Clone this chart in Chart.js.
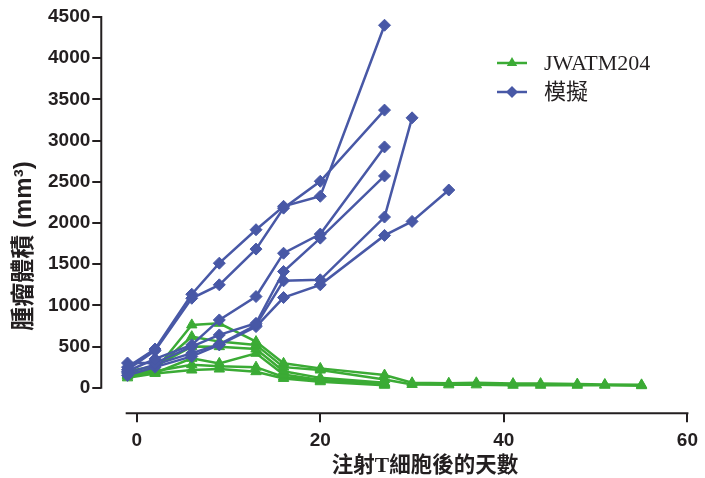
<!DOCTYPE html>
<html>
<head>
<meta charset="utf-8">
<script src="https://cdn.jsdelivr.net/npm/chart.js@4"></script>
<style>
  html, body { margin: 0; padding: 0; background: #fff; }
  #wrap { width: 705px; height: 478px; }
</style>
</head>
<body>
<div id="wrap"><canvas id="tumorChart"></canvas></div>
<script>
// Days after T cell injection
const days = [-1, 2, 6, 9, 13, 16, 20, 27, 30, 34, 37, 41, 44, 48, 51, 55];

// Mock (模擬) mice, tumor volume mm3
const mock1 = [250, 470, 1135, 1512, 1918, 2202, 2324, 4400];
const mock2 = [220, 450, 1086, 1249, 1683, 2180, 2506, 3370];
const mock3 = [200, 350, 520, 823, 1107, 1633, 1865, 2923];
const mock4 = [300, 300, 500, 641, 782, 1411, 1816, 2571];
const mock5 = [180, 280, 420, 527, 760, 1298, 1310, 2072, 3276];
const mock6 = [150, 250, 380, 520, 742, 1095, 1249, 1849, 2019, 2400];

// JWATM204 treated mice
const jw1 = [150, 210, 763, 782, 560, 296, 235, 154, 60, 55, 60, 50, 50, 45, 40, 35];
const jw2 = [170, 230, 620, 560, 520, 250, 215, 100, 40, 35, 35, 30, 30, 30, 30, 25];
const jw3 = [200, 260, 500, 499, 470, 200, 120, 60];
const jw4 = [140, 180, 357, 296, 418, 160, 94, 52];
const jw5 = [120, 174, 215, 227, 195, 113, 73, 30];
const jw6 = [160, 200, 280, 260, 250, 130, 90, 40];

const yTicks = [0, 500, 1000, 1500, 2000, 2500, 3000, 3500, 4000, 4500];
const xTicks = [0, 20, 40, 60];

const legendLabels = ['JWATM204', '模擬'];

const green = '#3bab35';
const blue = '#4858a6';
const ink = '#231f20';

function toPoints(values) {
  return values.map((v, i) => ({ x: days[i], y: v }));
}

function makeSet(values, color, style) {
  return {
    data: toPoints(values),
    borderColor: color,
    backgroundColor: color,
    borderWidth: 2.5,
    pointStyle: style,
    pointRadius: 6,
    pointBorderWidth: 1,
    tension: 0,
    clip: false
  };
}

const mockSets = [mock1, mock2, mock3, mock4, mock5, mock6].map(v => makeSet(v, blue, 'rectRot'));
const jwSets = [jw1, jw2, jw3, jw4, jw5, jw6].map(v => makeSet(v, green, 'triangle'));

// axis lines, titles and legend drawn by hand (prism style offset axes)
const decorPlugin = {
  id: 'decor',
  afterDraw(chart) {
    const ctx = chart.ctx;
    const xs = chart.scales.x;
    const ys = chart.scales.y;
    const area = chart.chartArea;
    ctx.save();
    ctx.strokeStyle = ink;
    ctx.lineWidth = 2;
    ctx.beginPath();
    ctx.moveTo(area.left, ys.getPixelForValue(4500) - 1);
    ctx.lineTo(area.left, ys.getPixelForValue(0) + 1);
    ctx.moveTo(xs.getPixelForValue(-1.2), area.bottom);
    ctx.lineTo(xs.getPixelForValue(60) + 1, area.bottom);
    ctx.stroke();

    // y title
    ctx.fillStyle = ink;
    ctx.font = 'bold 24px "Liberation Sans", "Noto Sans CJK TC"';
    ctx.textAlign = 'center';
    ctx.textBaseline = 'middle';
    ctx.translate(24, 246);
    ctx.rotate(-Math.PI / 2);
    ctx.fillText('腫瘤體積 (mm³)', 0, 0);
    ctx.setTransform(1, 0, 0, 1, 0, 0);

    // x title
    ctx.font = 'bold 21.5px "Liberation Serif", "Noto Sans CJK TC"';
    ctx.fillText('注射T細胞後的天數', 425, 466);

    // legend
    const rows = [
      { label: legendLabels[0], color: green, style: 'triangle', y: 63 },
      { label: legendLabels[1], color: blue, style: 'rectRot', y: 92 }
    ];
    rows.forEach(r => {
      ctx.strokeStyle = r.color;
      ctx.fillStyle = r.color;
      ctx.lineWidth = 2.5;
      ctx.beginPath();
      ctx.moveTo(497, r.y);
      ctx.lineTo(527, r.y);
      ctx.stroke();
      ctx.lineWidth = 1;
      Chart.helpers.drawPoint(ctx, { pointStyle: r.style, radius: 6, rotation: 0 }, 512, r.y);
      ctx.fillStyle = ink;
      ctx.font = '22px "Liberation Serif", "Noto Sans CJK TC"';
      ctx.textAlign = 'left';
      ctx.fillText(r.label, 544, r.y + 1);
    });
    ctx.restore();
  }
};

const ctx = document.getElementById('tumorChart').getContext('2d');
const tumorChart = new Chart(ctx, {
  type: 'line',
  data: {
    datasets: mockSets.concat(jwSets)
  },
  options: {
    responsive: true,
    maintainAspectRatio: false,
    animation: false,
    layout: { padding: { left: 46, top: 17, right: 10, bottom: 19 } },
    plugins: {
      legend: { display: false },
      tooltip: { enabled: false }
    },
    scales: {
      x: {
        type: 'linear',
        min: -3.86,
        max: 60,
        afterBuildTicks: s => { s.ticks = xTicks.map(v => ({ value: v })); },
        border: { display: false },
        grid: { drawOnChartArea: false, drawTicks: true, tickLength: 9, color: ink, lineWidth: 2 },
        ticks: {
          color: ink,
          padding: 7,
          maxRotation: 0,
          callback: v => String(v),
          font: { family: '"Liberation Sans", Arial', size: 19, weight: 'bold' }
        }
      },
      y: {
        min: -309,
        max: 4500,
        afterBuildTicks: s => { s.ticks = yTicks.map(v => ({ value: v })); },
        border: { display: false },
        grid: { drawOnChartArea: false, drawTicks: true, tickLength: 9, color: ink, lineWidth: 2 },
        ticks: {
          color: ink,
          padding: 2,
          callback: v => String(v),
          font: { family: '"Liberation Sans", Arial', size: 19, weight: 'bold' }
        }
      }
    }
  },
  plugins: [decorPlugin]
});
</script>
</body>
</html>
